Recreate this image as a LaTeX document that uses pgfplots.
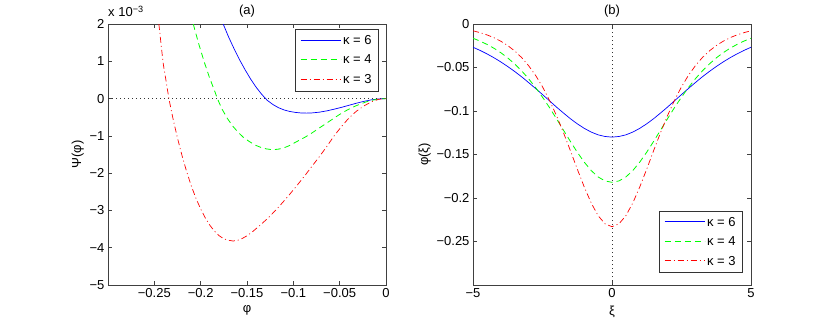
\documentclass[border=0pt]{standalone}
\usepackage{pgfplots}
\pgfplotsset{compat=1.18}
\usepackage{fontspec}
\setmainfont{Liberation Sans}

\definecolor{mblue}{RGB}{0,0,255}
\definecolor{mgreen}{RGB}{0,255,0}
\definecolor{mred}{RGB}{255,0,0}

\pgfplotsset{
  panel/.style={
    scale only axis, width=278pt, height=261pt,
    axis line style={black!75, line width=0.8pt},
    tick align=inside, major tick length=4pt,
    tick style={black!75, line width=0.6pt},
    xtick pos=both, ytick pos=both,
    every tick label/.append style={font=\fontsize{13}{15}\selectfont},
    label style={font=\fontsize{13}{15}\selectfont},
    title style={font=\fontsize{13}{15}\selectfont, yshift=-3pt},
    legend cell align=left,
    legend style={line width=0.8pt, inner xsep=5pt, inner ysep=4pt,
      row sep=5pt, font=\fontsize{13}{15}\selectfont},
    every axis legend/.append style={draw=black!80},
    legend image code/.code={\draw[#1, line width=0.9pt] (0pt,0.5pt) -- (40pt,0.5pt);},
  },
  k6/.style={color=mblue, draw=mblue, line width=0.7pt},
  k4/.style={color=mgreen, draw=mgreen, line width=0.8pt, dash pattern=on 6pt off 4pt},
  k3/.style={color=mred, draw=mred, line width=0.7pt, dash pattern=on 6pt off 3pt on 1pt off 3pt},
  zeroline/.style={draw=black!80, line width=0.6pt, dash pattern=on 0.8pt off 3.2pt, forget plot},
}

\begin{document}
\begin{tikzpicture}
\useasboundingbox (0pt,0pt) rectangle (830pt,322pt);

% (a) pseudopotential, values in units of 1e-3
\begin{axis}[panel, at={(108pt,37pt)},
  xmin=-0.3, xmax=0, ymin=-5, ymax=2,
  xtick={-0.25,-0.2,-0.15,-0.1,-0.05,0},
  xticklabels={−0.25,−0.2,−0.15,−0.1,−0.05,0},
  ytick={-5,-4,-3,-2,-1,0,1,2},
  yticklabels={−5,−4,−3,−2,−1,0,1,2},
  xlabel={φ}, ylabel={Ψ(φ)},
  xlabel style={yshift=-1pt}, ylabel style={yshift=-1pt},
  title={(a)},
  legend style={at={(1,1)}, anchor=north east, xshift=-7pt, yshift=-5pt},
]
\addplot[zeroline] coordinates {(-0.3,0) (0,0)};
\addplot[k6] coordinates {
(-0.1757,2.0) (-0.170,1.66) (-0.164,1.34) (-0.158,1.04) (-0.152,0.77)
(-0.146,0.52) (-0.140,0.30) (-0.134,0.11) (-0.128,-0.05) (-0.122,-0.16)
(-0.116,-0.245) (-0.110,-0.305) (-0.104,-0.345) (-0.098,-0.37) (-0.092,-0.385)
(-0.086,-0.39) (-0.080,-0.385) (-0.072,-0.365) (-0.064,-0.33) (-0.056,-0.285)
(-0.048,-0.235) (-0.040,-0.18) (-0.032,-0.125) (-0.024,-0.075) (-0.016,-0.035)
(-0.008,-0.01) (0,0)};
\addlegendentry{κ = 6}
\addplot[k4] coordinates {
(-0.2080,2.0) (-0.2020,1.46) (-0.1960,0.97) (-0.1900,0.53) (-0.1850,0.21)
(-0.1820,0.0) (-0.1770,-0.28) (-0.1710,-0.54) (-0.1650,-0.75) (-0.1590,-0.92)
(-0.1530,-1.06) (-0.1470,-1.16) (-0.1410,-1.25) (-0.1350,-1.31) (-0.1290,-1.35)
(-0.1230,-1.37) (-0.1170,-1.36) (-0.1110,-1.33) (-0.1050,-1.27) (-0.0990,-1.19)
(-0.0930,-1.11) (-0.0870,-1.03) (-0.0810,-0.94) (-0.0750,-0.84) (-0.0690,-0.74)
(-0.0630,-0.64) (-0.0570,-0.54) (-0.0510,-0.44) (-0.0450,-0.35) (-0.0390,-0.27)
(-0.0330,-0.20) (-0.0270,-0.14) (-0.0210,-0.085) (-0.0150,-0.045) (-0.0090,-0.017)
(0,0)};
\addlegendentry{κ = 4}
\addplot[k3] coordinates {
(-0.2451,2.0) (-0.2405,0.95) (-0.2370,0.42) (-0.2343,0.0) (-0.2296,-0.57)
(-0.2250,-1.06) (-0.2200,-1.54) (-0.2150,-1.97) (-0.2100,-2.35) (-0.2050,-2.68)
(-0.2000,-2.96) (-0.1950,-3.20) (-0.1900,-3.40) (-0.1850,-3.56) (-0.1800,-3.68)
(-0.1750,-3.76) (-0.1700,-3.80) (-0.1650,-3.82) (-0.1600,-3.80) (-0.1550,-3.75)
(-0.1500,-3.68) (-0.1440,-3.57) (-0.1360,-3.40) (-0.1280,-3.22) (-0.1200,-3.02)
(-0.1120,-2.80) (-0.1040,-2.57) (-0.0960,-2.33) (-0.0880,-2.08) (-0.0800,-1.82)
(-0.0720,-1.56) (-0.0640,-1.29) (-0.0560,-1.00) (-0.0480,-0.75) (-0.0400,-0.52)
(-0.0320,-0.34) (-0.0240,-0.20) (-0.0160,-0.09) (-0.0080,-0.02) (0,0)};
\addlegendentry{κ = 3}
\end{axis}
\node[anchor=base west, font=\fontsize{13}{15}\selectfont, inner sep=0pt]
  at (108pt,305pt) {x 10\textsuperscript{−3}};

% (b) soliton profiles
\begin{axis}[panel, at={(473pt,37pt)},
  xmin=-5, xmax=5, ymin=-0.3, ymax=0,
  xtick={-5,0,5}, xticklabels={−5,0,5},
  ytick={-0.25,-0.2,-0.15,-0.1,-0.05,0},
  yticklabels={−0.25,−0.2,−0.15,−0.1,−0.05,0},
  xlabel={ξ}, ylabel={φ(ξ)},
  xlabel style={yshift=-1pt}, ylabel style={yshift=-1pt},
  title={(b)},
  legend style={at={(1,0)}, anchor=south east, xshift=-8pt, yshift=12pt},
]
\addplot[zeroline] coordinates {(0,-0.3) (0,0)};
\addplot[k6] coordinates {
(-5,-0.0267) (-4.75,-0.0303) (-4.5,-0.0343) (-4.25,-0.0387) (-4,-0.0436)
(-3.75,-0.0489) (-3.5,-0.0546) (-3.25,-0.0607) (-3,-0.0673) (-2.75,-0.0741)
(-2.5,-0.0811) (-2.25,-0.0882) (-2,-0.0954) (-1.75,-0.1022) (-1.5,-0.1088)
(-1.25,-0.1147) (-1,-0.1199) (-0.75,-0.1242) (-0.5,-0.1274) (-0.25,-0.1293)
(0,-0.1300)
(0.25,-0.1293) (0.5,-0.1274) (0.75,-0.1242) (1,-0.1199) (1.25,-0.1147)
(1.5,-0.1088) (1.75,-0.1022) (2,-0.0954) (2.25,-0.0882) (2.5,-0.0811)
(2.75,-0.0741) (3,-0.0673) (3.25,-0.0607) (3.5,-0.0546) (3.75,-0.0489)
(4,-0.0436) (4.25,-0.0387) (4.5,-0.0343) (4.75,-0.0303) (5,-0.0267)};
\addlegendentry{κ = 6}
\addplot[k4] coordinates {
(-5,-0.0164) (-4.75,-0.0196) (-4.5,-0.0234) (-4.25,-0.0278) (-4,-0.0330)
(-3.75,-0.0390) (-3.5,-0.0460) (-3.25,-0.0539) (-3,-0.0629) (-2.75,-0.0730)
(-2.5,-0.0841) (-2.25,-0.0960) (-2,-0.1087) (-1.75,-0.1218) (-1.5,-0.1348)
(-1.25,-0.1473) (-1,-0.1587) (-0.75,-0.1684) (-0.5,-0.1758) (-0.25,-0.1804)
(0,-0.1820)
(0.25,-0.1804) (0.5,-0.1758) (0.75,-0.1684) (1,-0.1587) (1.25,-0.1473)
(1.5,-0.1348) (1.75,-0.1218) (2,-0.1087) (2.25,-0.0960) (2.5,-0.0841)
(2.75,-0.0730) (3,-0.0629) (3.25,-0.0539) (3.5,-0.0460) (3.75,-0.0390)
(4,-0.0330) (4.25,-0.0278) (4.5,-0.0234) (4.75,-0.0196) (5,-0.0164)};
\addlegendentry{κ = 4}
\addplot[k3] coordinates {
(-5,-0.0078) (-4.75,-0.0099) (-4.5,-0.0125) (-4.25,-0.0157) (-4,-0.0198)
(-3.75,-0.0248) (-3.5,-0.0310) (-3.25,-0.0386) (-3,-0.0479) (-2.75,-0.0590)
(-2.5,-0.0722) (-2.25,-0.0876) (-2,-0.1051) (-1.75,-0.1245) (-1.5,-0.1453)
(-1.25,-0.1667) (-1,-0.1872) (-0.75,-0.2056) (-0.5,-0.2203) (-0.25,-0.2297)
(0,-0.2330)
(0.25,-0.2297) (0.5,-0.2203) (0.75,-0.2056) (1,-0.1872) (1.25,-0.1667)
(1.5,-0.1453) (1.75,-0.1245) (2,-0.1051) (2.25,-0.0876) (2.5,-0.0722)
(2.75,-0.0590) (3,-0.0479) (3.25,-0.0386) (3.5,-0.0310) (3.75,-0.0248)
(4,-0.0198) (4.25,-0.0157) (4.5,-0.0125) (4.75,-0.0099) (5,-0.0078)};
\addlegendentry{κ = 3}
\end{axis}
\end{tikzpicture}
\end{document}
